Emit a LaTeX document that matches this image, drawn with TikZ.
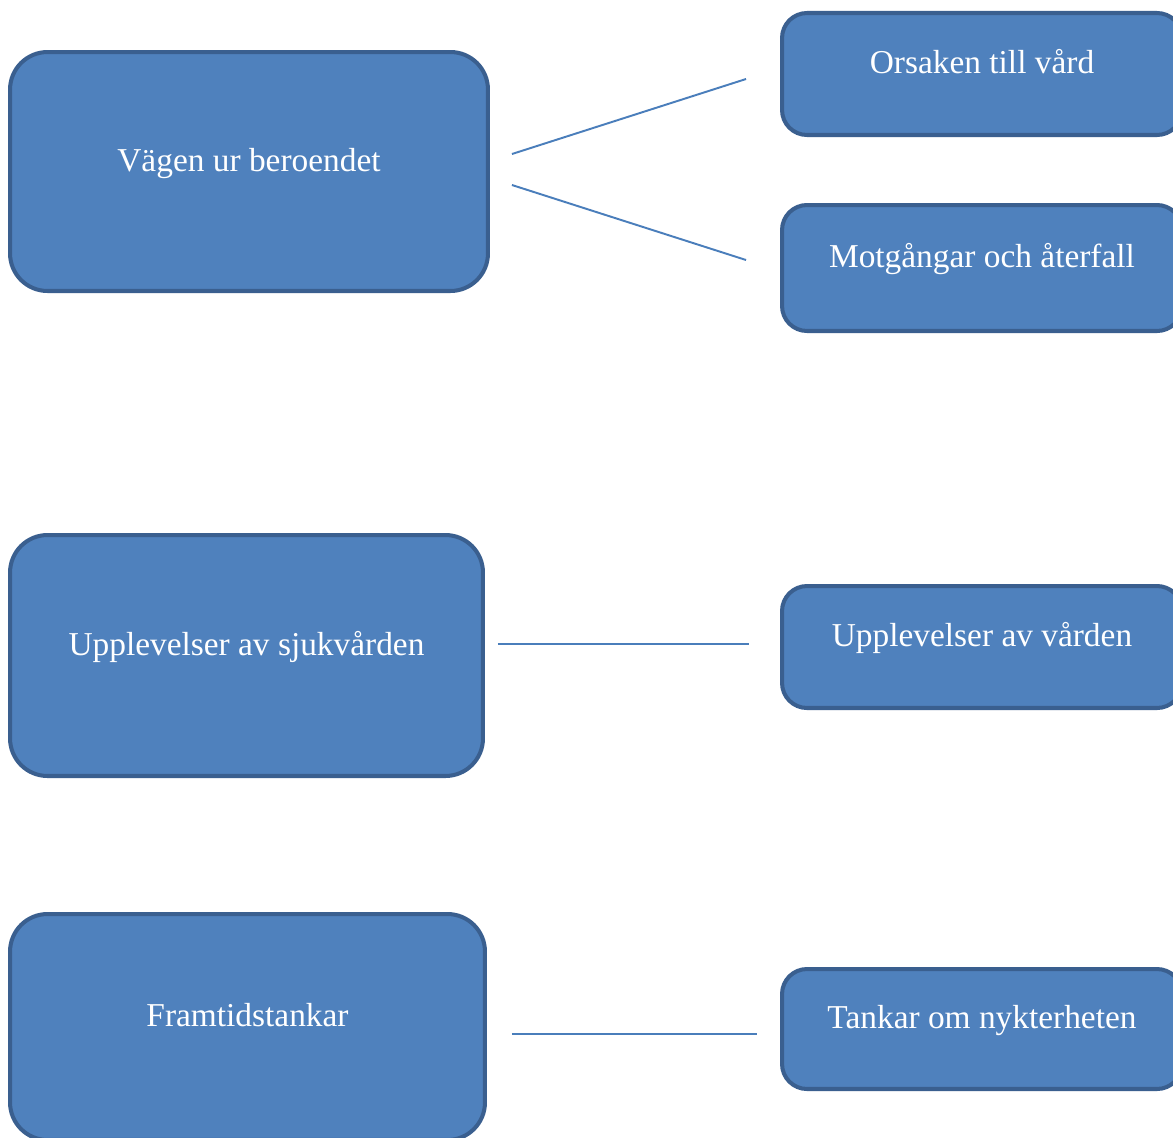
\documentclass[tikz,border=0pt]{standalone}
\usepackage{fontspec}
\setmainfont{Liberation Serif}
\usetikzlibrary{calc}
\definecolor{boxfill}{HTML}{4F81BD}
\definecolor{boxedge}{HTML}{3A5F8F}
\definecolor{linkcol}{HTML}{4A7EBB}
\tikzset{
    bigbox/.style={draw=boxedge, line width=2.3pt, fill=boxfill, rounded corners=0.75cm,
        text=white, font=\fontsize{19}{22}\selectfont, text height=0.42cm, text depth=0.44cm},
    smallbox/.style={bigbox, rounded corners=0.5cm},
    link/.style={draw=linkcol, line width=1.1pt}
}

\begin{document}
\begin{tikzpicture}[x=0.02cm, y=-0.02cm]
            \useasboundingbox[fill=white] (0,0) rectangle (1173,1137);

            % left column
            \node[bigbox, minimum width=9.56cm, minimum height=4.78cm] (vagen) at (249,171.5) {Vägen ur beroendet};
            \node[bigbox, minimum width=9.46cm, minimum height=4.82cm] (upplev) at (246.5,655.5) {Upplevelser av sjukvården};
            \node[bigbox, minimum width=9.5cm, minimum height=4.52cm] (framtid) at (247.5,1027) {Framtidstankar};

            % right column
            \node[smallbox, minimum width=8cm, minimum height=2.44cm] (orsak) at (982,74) {Orsaken till vård};
            \node[smallbox, minimum width=8cm, minimum height=2.52cm] (motgang) at (982,268) {Motgångar och återfall};
            \node[smallbox, minimum width=8cm, minimum height=2.44cm] (vard) at (982,647) {Upplevelser av vården};
            \node[smallbox, minimum width=8cm, minimum height=2.4cm] (nykter) at (982,1029) {Tankar om nykterheten};

            % connectors
            \coordinate (a1) at ([shift={(22,-17.5)}]vagen.east);
            \coordinate (b1) at ([shift={(-34,5)}]orsak.west);
            \coordinate (a2) at ([shift={(22,13.5)}]vagen.east);
            \coordinate (b2) at ([shift={(-34,-8)}]motgang.west);
            \coordinate (a3) at ([shift={(13,-11.5)}]upplev.east);
            \coordinate (b3) at ([shift={(-31,-3)}]vard.west);
            \coordinate (a4) at ([shift={(25,7)}]framtid.east);
            \coordinate (b4) at ([shift={(-23,5)}]nykter.west);
            \draw[link] (a1) -- (b1);
            \draw[link] (a2) -- (b2);
            \draw[link] (a3) -- (b3);
            \draw[link] (a4) -- (b4);
        \end{tikzpicture}
\end{document}
